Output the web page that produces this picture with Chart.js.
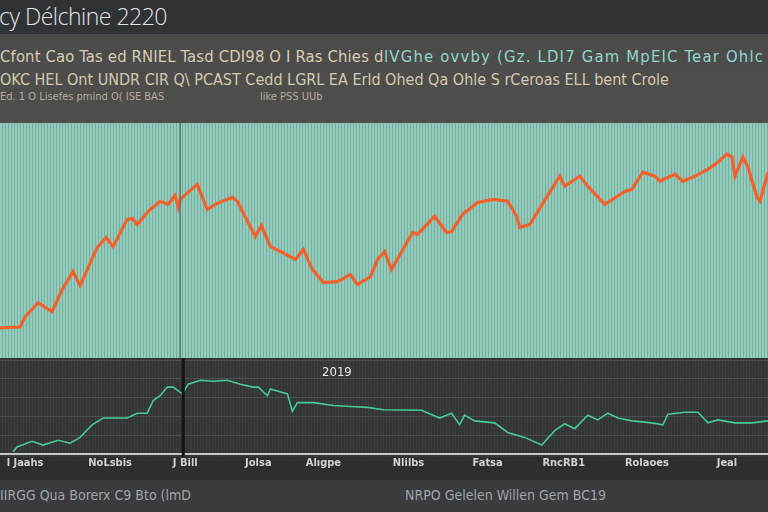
<!DOCTYPE html>
<html><head><meta charset="utf-8">
<script src="https://cdn.jsdelivr.net/npm/chart.js@4.4.0/dist/chart.umd.min.js"></script>
<style>
html,body{margin:0;padding:0;}
body{width:768px;height:512px;position:relative;overflow:hidden;background:#303336;font-family:"DejaVu Sans Condensed","DejaVu Sans",sans-serif;}
.abs{position:absolute;white-space:nowrap;}
#title{left:-1px;top:0px;font:300 23px "Open Sans",sans-serif;color:#e2e2e2;letter-spacing:-0.5px;}
#band{left:0;top:34px;width:768px;height:89px;background:linear-gradient(#4b4b4a,#4e4e4d);}
.sub1{top:47px;font-size:16.5px;}
#s1a{left:0;color:#d6cdb3;letter-spacing:0.15px;}
#s1b{left:384px;color:#93d6cc;letter-spacing:1.2px;}
#s2{left:0;top:70px;font-size:16px;color:#d2c9ae;}
.s3{top:90px;font-size:11px;color:#b3ac97;}
#topwrap{left:0;top:123px;width:768px;height:235px;background:repeating-linear-gradient(90deg,#93ccbc 0px,#93ccbc 2px,#78b0a0 2px,#78b0a0 3px);}
#botwrap{left:0;top:358px;width:768px;height:122px;background:linear-gradient(#343638 0px,#323436 99px,#2c2e30 99px,#2c2e30 122px);}
#botstripe{left:0;top:360px;width:768px;height:97px;background:repeating-linear-gradient(90deg,rgba(255,255,255,0) 0px,rgba(255,255,255,0) 2px,rgba(255,255,255,0.035) 2px,rgba(255,255,255,0.035) 3px);}
#footer{left:0;top:480px;width:768px;height:32px;background:#393b3e;}
.foot{top:487px;font-size:14px;color:#9fa4a9;}
#yr{left:322px;top:364px;font-size:13px;color:#e8e8e8;}
canvas{display:block;}
</style></head>
<body>
<div id="band" class="abs"></div>
<div id="title" class="abs">cy Délchine 2220</div>
<div id="s1a" class="abs sub1">Cfont Cao Tas ed RNIEL Tasd CDI98 O I Ras Chies d</div>
<div id="s1b" class="abs sub1">lVGhe ovvby (Gz. LDI7 Gam MpEIC Tear Ohlc</div>
<div id="s2" class="abs">OKC HEL Ont UNDR CIR Q\ PCAST Cedd LGRL EA Erld Ohed Qa Ohle S rCeroas ELL bent Crole</div>
<div class="abs s3" style="left:0">Ed. 1 O Lisefes pmind O( ISE BAS</div>
<div class="abs s3" style="left:260px">like PSS UUb</div>
<div id="topwrap" class="abs"><canvas id="top" width="768" height="235"></canvas></div>
<div id="footer" class="abs"></div>
<div id="botwrap" class="abs"></div>
<div id="botstripe" class="abs"></div>
<div class="abs" style="left:0;top:358px;width:768px;height:122px;"><canvas id="bot" width="768" height="122"></canvas></div>
<div id="yr" class="abs">2019</div>
<div class="abs foot" style="left:0">IIRGG Qua Borerx C9 Bto (lmD</div>
<div class="abs foot" style="left:405px">NRPO Gelelen Willen Gem BC19</div>
<script>
// ---- data ----
const topDays = [0,20,25,38,52,62,73,80,97,106,113,127,132,137,148,160,168,175,178,180,197,207,217,232,237,255,261,270,280,295,303,312,323,337,350,357,370,377,384,391,412,417,434,446,451,462,477,492,507,516,519,529,559,564,579,587,604,624,631,642,654,659,674,682,694,707,717,726,731,734,742,747,756,759,767];
const topValues = [12.8,13.2,17.5,23.5,19.7,29.1,36.8,30.8,47.0,51.3,47.4,59.0,59.4,56.8,62.4,66.7,65.4,69.2,64.1,67.5,73.9,63.2,65.8,68.4,66.7,51.7,56.4,47.4,45.3,41.9,46.2,37.6,32.1,32.5,35.5,31.2,34.6,41.9,45.3,37.6,53.4,52.6,60.3,53.4,53.8,61.1,66.2,67.5,66.7,60.3,55.6,56.8,77.4,73.1,77.4,73.1,65.4,70.9,71.8,79.1,77.4,75.2,78.2,75.2,77.4,80.3,83.3,86.8,85.5,77.4,85.5,81.2,68.4,66.7,79.1];
const bottomDays = [13,17,32,43,58,70,80,92,103,127,137,147,153,160,167,173,182,188,200,213,227,240,253,258,267,270,287,292,297,313,333,350,367,383,421,439,451,459,464,474,494,507,524,541,554,564,574,587,597,607,617,631,651,662,667,684,697,707,717,734,751,767];
const bottomValues = [2.1,7.2,13.4,9.3,14.4,11.3,17.5,30.9,38.1,38.1,43.3,43.3,56.7,61.9,71.1,71.1,63.9,74.2,78.4,77.3,78.4,74.2,71.1,71.1,61.9,69.1,63.9,45.4,54.6,54.6,51.5,50.5,49.5,47.0,46.4,38.1,43.3,30.9,41.2,35.1,33.0,22.7,17.5,9.3,24.7,32.0,26.8,41.2,36.1,43.3,38.1,35.1,33.0,30.9,42.3,44.3,44.3,33.0,36.1,33.0,33.0,35.1];
const tickDays = [25,110,185,258,323,408,487,563,646,726];
const tickLabels = ["l Jaahs","NoLsbis","J Bill","Jolsa","Alıgpe","Nlilbs","Fatsa","RncRB1","Rolaoes","Jeal"];
const topMarkerDay = 180;
const bottomMarkerDay = 183;

const pts = (xs, ys) => xs.map((x, i) => ({x: x, y: ys[i]}));

function markerPlugin(day, color, width, ext) {
  return {
    id: 'marker',
    afterDatasetsDraw(chart) {
      const {ctx, chartArea, scales} = chart;
      const px = scales.x.getPixelForValue(day);
      ctx.save();
      ctx.strokeStyle = color; ctx.lineWidth = width;
      ctx.beginPath(); ctx.moveTo(px, chartArea.top - ext); ctx.lineTo(px, chartArea.bottom + ext); ctx.stroke();
      ctx.restore();
    }
  };
}

new Chart(document.getElementById('top'), {
  type: 'line',
  data: { datasets: [
    { data: pts(topDays, topValues), borderColor: '#f2602c', borderWidth: 3.2, pointRadius: 0, tension: 0 },
    { data: pts(topDays, topValues), borderColor: '#6e2a18', borderWidth: 1, pointRadius: 0, tension: 0 }
  ]},
  options: {
    responsive: false, animation: false, events: [],
    layout: { padding: 0 },
    plugins: { legend: { display: false }, tooltip: { enabled: false } },
    scales: {
      x: { type: 'linear', min: 0, max: 767, display: false },
      y: { min: 0, max: 100, display: false }
    }
  },
  plugins: [markerPlugin(topMarkerDay, 'rgba(70,100,90,0.7)', 1.5, 0)]
});

new Chart(document.getElementById('bot'), {
  type: 'line',
  data: { datasets: [
    { data: pts(bottomDays, bottomValues), borderColor: '#46c995', borderWidth: 1.6, pointRadius: 0, tension: 0 }
  ]},
  options: {
    responsive: false, animation: false, events: [],
    layout: { padding: { top: 2, left: 0, right: 0, bottom: 7 } },
    plugins: { legend: { display: false }, tooltip: { enabled: false } },
    scales: {
      x: { type: 'linear', min: 0, max: 767,
        afterBuildTicks: (s) => { s.ticks = tickDays.map(v => ({ value: v })); },
        ticks: { autoSkip: false, maxRotation: 0, padding: 3, color: '#cfd2d2',
          font: { family: 'DejaVu Sans Condensed', size: 11, weight: 'bold' },
          callback: (v, i) => tickLabels[i] },
        grid: { display: false, drawTicks: false },
        border: { display: true, color: '#c3c7c8', width: 2 }
      },
      y: { min: 0, max: 100, ticks: { display: false, stepSize: 20 },
        grid: { color: 'rgba(160,165,170,0.22)', drawTicks: false },
        border: { display: false } }
    }
  },
  plugins: [markerPlugin(bottomMarkerDay, '#121314', 3, 3)]
});
</script>
</body></html>
